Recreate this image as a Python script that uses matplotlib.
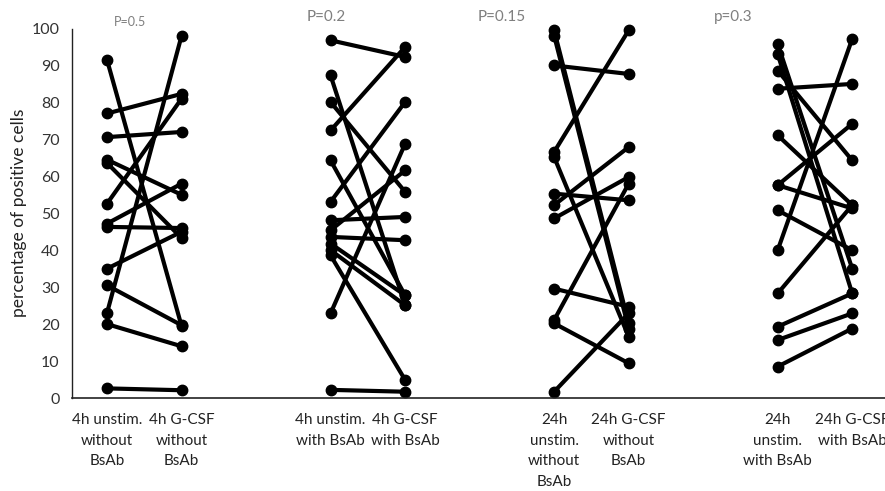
import matplotlib
matplotlib.use("Agg")
import matplotlib.pyplot as plt

# Category labels and their slot positions on the category axis
categories = ["4h unstim.\nwithout\nBsAb", "4h G-CSF\nwithout\nBsAb",
              "4h unstim.\nwith BsAb", "4h G-CSF\nwith BsAb",
              "24h\nunstim.\nwithout\nBsAb", "24h G-CSF\nwithout\nBsAb",
              "24h\nunstim.\nwith BsAb", "24h G-CSF\nwith BsAb"]
slots = [0, 1, 3, 4, 6, 7, 9, 10]

# Paired values (left condition, right condition) per group
g1_left = [91.5, 77, 70.6, 64.5, 63.6, 52.6, 47.2, 46.3, 35, 30.5, 23, 20, 2.6]
g1_right = [19.5, 82.3, 72, 55, 43.3, 81, 58, 46, 45, 19.7, 98, 14, 2.1]

g2_left = [96.8, 87.3, 80.1, 72.4, 64.3, 53.1, 48.1, 45.4, 43.6, 41.8, 40, 38.6, 22.9, 2.2]
g2_right = [92.3, 25.1, 55.8, 95, 27.8, 80.1, 49, 61.6, 42.7, 27.8, 25.1, 4.9, 68.8, 1.7]

g3_left = [99.5, 98.1, 90, 66.6, 65.2, 55.3, 52.2, 48.6, 29.6, 21.1, 20.2, 1.7]
g3_right = [20.2, 18.8, 87.7, 99.5, 16.6, 53.5, 67.9, 59.8, 24.7, 58, 9.4, 22.9]

g4_left = [95.8, 93.1, 88.6, 83.7, 71.1, 57.6, 57.6, 50.8, 40, 28.3, 19.3, 15.7, 8.5]
g4_right = [35, 28.3, 64.3, 85, 52.2, 74.2, 51.3, 40, 97.2, 52.2, 28.3, 22.9, 18.8]

groups = [(g1_left, g1_right), (g2_left, g2_right), (g3_left, g3_right), (g4_left, g4_right)]
p_labels = ["P=0.5", "P=0.2", "P=0.15", "p=0.3"]

W, H = 885, 491
fig = plt.figure(figsize=(W / 100, H / 100), dpi=100)
plt.rcParams['font.family'] = ['Lato', 'DejaVu Sans']
ax = fig.add_axes([72 / W, 1 - 398 / H, (885 - 72) / W, (398 - 28.5) / H])

for gi, (lv, rv) in enumerate(groups):
    xl, xr = slots[2 * gi], slots[2 * gi + 1]
    for a, b in zip(lv, rv):
        ax.plot([xl, xr], [a, b], '-o', color='black', lw=3, ms=7.5,
                solid_capstyle='round', clip_on=False)

ax.set_xlim(-0.47, 10.44)
ax.set_ylim(0, 100)
ax.set_yticks(range(0, 101, 10))
ax.set_xticks(slots)
ax.set_xticklabels(categories, fontsize=11, color='#222222', linespacing=1.6)
ax.tick_params(axis='x', length=0, pad=11)
ax.tick_params(axis='y', length=0, labelsize=11.5, colors='#333333', pad=9)
for s in ['top', 'right']:
    ax.spines[s].set_visible(False)
ax.spines['left'].set_color('#222222')
ax.spines['bottom'].set_color('#222222')
ax.spines['left'].set_linewidth(1.0)
ax.spines['bottom'].set_linewidth(1.2)
ax.set_ylabel("percentage of positive cells", fontsize=12.5, color='#222222', labelpad=3)

# p-value annotations
p_x = [0.31, 2.94, 5.3, 8.4]
p_y = [101.8, 103.2, 103.2, 103.2]
p_size = [9, 11, 11, 11]
for x, y, t, s in zip(p_x, p_y, p_labels, p_size):
    ax.text(x, y, t, ha='center', va='center', fontsize=s, color='#7f7f7f', clip_on=False)

fig.savefig("out.png", dpi=100)
